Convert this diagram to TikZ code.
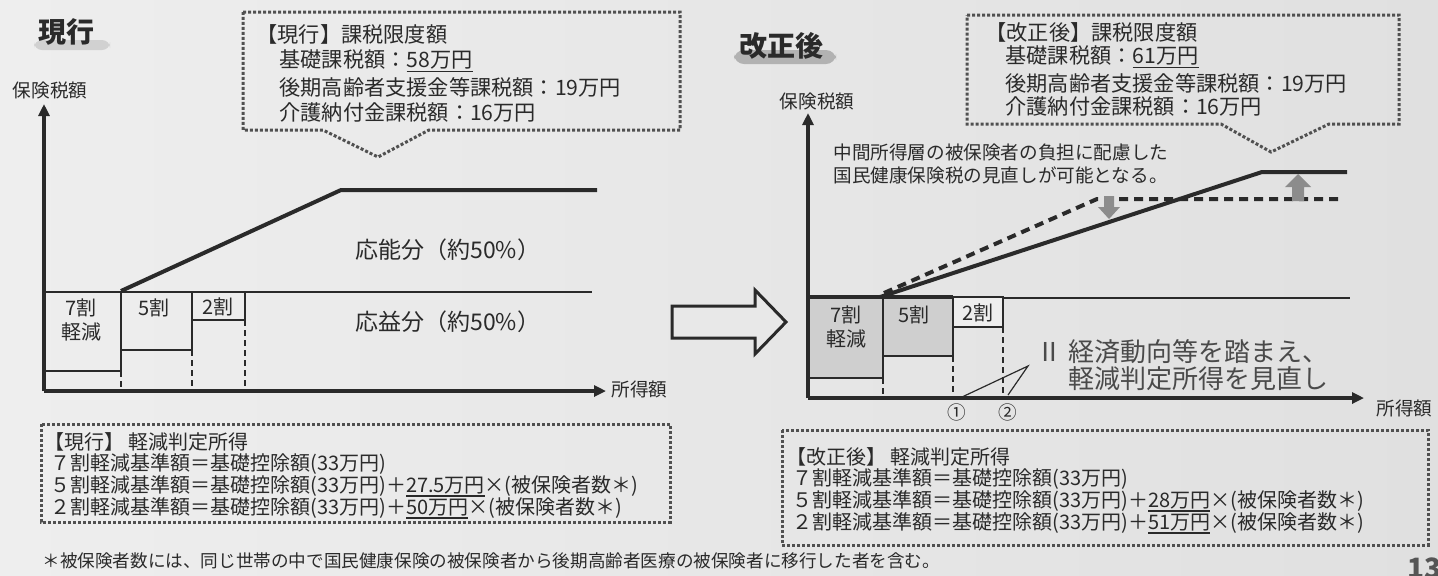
\documentclass[tikz,border=0pt]{standalone}
\usepackage{fontspec}
\setmainfont{Noto Sans CJK JP}
\usetikzlibrary{arrows.meta}
\definecolor{bgL}{HTML}{EEEEEE}
\definecolor{bgR}{HTML}{E0E0E0}
\definecolor{ink}{HTML}{2A2A2A}
\definecolor{dotc}{HTML}{505050}
\definecolor{boxfill}{HTML}{CFCFCF}
\definecolor{arrg}{HTML}{8C8C8C}
\newcommand\fzbox{\fontsize{10.6}{12}\selectfont}
\newcommand\fzlow{\fontsize{10}{11}\selectfont}
\newcommand\fzfoot{\fontsize{8.8}{10}\selectfont}
\newcommand\fzchart{\fontsize{11.5}{13}\selectfont}
\newcommand\fzbar{\fontsize{10}{11}\selectfont}
\newcommand\fzax{\fontsize{9.3}{10}\selectfont}
\newcommand\fztitle{\fontsize{14}{16}\selectfont\bfseries}
\newcommand\fzbig{\fontsize{13}{15}\selectfont}
\newcommand\ulx[1]{\leavevmode\setbox0=\hbox{#1}\rlap{\rule[-2.3pt]{\wd0}{0.7pt}}\box0}
\begin{document}
\begin{tikzpicture}[x=0.5pt,y=-0.5pt,
  dotbox/.style={draw=dotc,line width=1.5pt,dash pattern=on 1.5pt off 1pt},
  axisline/.style={draw=ink,line width=2pt,-{Triangle[length=6pt,width=5.5pt]}},
  profile/.style={draw=ink,line width=2pt},
  dprofile/.style={draw=ink,line width=2pt,dash pattern=on 4.5pt off 3pt},
  baseline/.style={draw=ink,line width=1pt},
  bar/.style={draw=ink,line width=1.2pt},
  vdash/.style={draw=ink,line width=0.8pt,dash pattern=on 3pt off 2pt},
  txt/.style={inner sep=0pt,text=ink},
  garrow/.style={fill=arrg,draw=none}]
\shade[left color=bgL,right color=bgR] (0,0) rectangle (1438,575);
\useasboundingbox (0,0) rectangle (1438,575);

% ---------- titles ----------
\fill[gray!45,rounded corners=4pt,opacity=.7] (34,40) rectangle (110,50);
\node[txt,font=\fztitle] (tl) at (66,32) {現行};
\fill[gray!60,rounded corners=5pt] (734,50) rectangle (836,64);
\node[txt,font=\fztitle] (tr) at (781,46) {改正後};

% ---------- top-left box ----------
\draw[dotbox] (243,12) -- (680,12) -- (680,130) -- (429,130) -- (378,157) -- (323,130) -- (243,130) -- cycle;
\node[txt,anchor=west,font=\fzbox] (lh) at (256,34) {【現行】課税限度額};
\node[txt,anchor=west,font=\fzbox] (l1) at (279,61) {基礎課税額：\ulx{58万円}};
\node[txt,anchor=west,font=\fzbox] (l2) at (279,87) {後期高齢者支援金等課税額：19万円};
\node[txt,anchor=west,font=\fzbox] (l3) at (279,112) {介護納付金課税額：16万円};

% ---------- top-right box ----------
\draw[dotbox] (967,15) -- (1399,15) -- (1399,124) -- (1329,124) -- (1271,152) -- (1221,124) -- (967,124) -- cycle;
\node[txt,anchor=west,font=\fzbox] (rh) at (985,32) {【改正後】課税限度額};
\node[txt,anchor=west,font=\fzbox] (r1) at (1005,57) {基礎課税額：\ulx{61万円}};
\node[txt,anchor=west,font=\fzbox] (r2) at (1005,83) {後期高齢者支援金等課税額：19万円};
\node[txt,anchor=west,font=\fzbox] (r3) at (1005,106) {介護納付金課税額：16万円};

% ---------- left chart ----------
\coordinate (LO) at (44,391);
\coordinate (LY) at (44,104);
\coordinate (LX) at (606,391);
\node[txt,font=\fzax] (ly) at (50,90) {保険税額};
\node[txt,anchor=west,font=\fzax] (lx) at (611,389) {所得額};
\draw[bar] (44,292) rectangle (121,371);
\draw[bar] (121,292) rectangle (192,350);
\draw[bar] (192,292) rectangle (245,320);
\draw[baseline] (44,292) -- (592,292);
\draw[profile] (121,291) -- (341,190) -- (597,190);
\draw[vdash] (121,371) -- (121,391);
\draw[vdash] (192,350) -- (192,391);
\draw[vdash] (245,320) -- (245,391);
\draw[axisline] (LO) -- (LY);
\draw[axisline] (LO) -- (LX);
\node[txt,font=\fzbar] (b7a) at (81,308) {7割};
\node[txt,font=\fzbar] (b7b) at (81,332) {軽減};
\node[txt,font=\fzbar] (b5) at (154,308) {5割};
\node[txt,font=\fzbar] (b2) at (218,307) {2割};
\node[txt,anchor=west,font=\fzchart] (onou) at (355,250) {応能分（約50\%）};
\node[txt,anchor=west,font=\fzchart] (oeki) at (355,322) {応益分（約50\%）};

% ---------- big arrow ----------
\draw[draw=ink,line width=1.5pt,fill=bgL!60!bgR,line join=miter]
  (672,306) -- (755,306) -- (755,290) -- (786,322) -- (755,354) -- (755,338) -- (672,338) -- cycle;

% ---------- right chart ----------
\coordinate (RO) at (808,398);
\coordinate (RY) at (808,113);
\coordinate (RX) at (1364,398);
\node[txt,font=\fzax] (ry) at (817,101) {保険税額};
\node[txt,anchor=west,font=\fzax] (rx) at (1376,408) {所得額};
\node[txt,anchor=west,font=\fzax] (n1) at (833,152) {中間所得層の被保険者の負担に配慮した};
\node[txt,anchor=west,font=\fzax] (n2) at (833,175) {国民健康保険税の見直しが可能となる。};
\draw[bar,fill=boxfill] (808,297) rectangle (883,378);
\draw[bar,fill=boxfill] (883,297) rectangle (953,356);
\draw[bar,fill=bgL] (953,297) rectangle (1003,327);
\draw[draw=ink,line width=1.8pt] (808,297) -- (953,297);
\draw[baseline] (1003,298) -- (1350,298);
\draw[dprofile] (884,293) -- (1097,199) -- (1340,199);
\draw[profile] (880,297) -- (1262,172) -- (1347,172);
% grey block arrows
\fill[garrow] (1104,196) -- (1114,196) -- (1114,207) -- (1120,207) -- (1109,219) -- (1098,207) -- (1104,207) -- cycle;
\fill[garrow] (1292,201) -- (1304,201) -- (1304,187) -- (1311,187) -- (1298,174) -- (1285,187) -- (1292,187) -- cycle;
\draw[vdash] (883,378) -- (883,398);
\draw[vdash] (953,356) -- (953,398);
\draw[vdash] (1003,327) -- (1003,398);
\draw[axisline] (RO) -- (RY);
\draw[axisline] (RO) -- (RX);
\node[txt,font=\fzbar] (c7a) at (846,315) {7割};
\node[txt,font=\fzbar] (c7b) at (846,339) {軽減};
\node[txt,font=\fzbar] (c5) at (914,315) {5割};
\node[txt,font=\fzbar] (c2) at (978,313) {2割};
\coordinate (tp) at (1028,366);
\draw[draw=ink,line width=0.6pt] (962,397) -- (tp) -- (1008,395);
\node[txt,font=\fzax] (m1) at (957,412) {①};
\node[txt,font=\fzax] (m2) at (1008,412) {②};
\node[txt,anchor=west,font=\fzbig,text=ink!85] (k1) at (1036,352) {Ⅱ 経済動向等を踏まえ、};
\node[txt,anchor=west,font=\fzbig,text=ink!85] (k2) at (1068,379) {軽減判定所得を見直し};

% ---------- bottom-left box ----------
\draw[dotbox] (41,424) rectangle (670,522);
\node[txt,anchor=west,font=\fzlow] (g0) at (44,442) {【現行】 軽減判定所得};
\node[txt,anchor=west,font=\fzlow] (g1) at (50,464) {７割軽減基準額＝基礎控除額(33万円)};
\node[txt,anchor=west,font=\fzlow] (g2) at (50,486) {５割軽減基準額＝基礎控除額(33万円)＋\ulx{27.5万円}×(被保険者数＊)};
\node[txt,anchor=west,font=\fzlow] (g3) at (50,508) {２割軽減基準額＝基礎控除額(33万円)＋\ulx{50万円}×(被保険者数＊)};

% ---------- bottom-right box ----------
\draw[dotbox] (782,430) rectangle (1428,545);
\node[txt,anchor=west,font=\fzlow] (h0) at (786,457) {【改正後】 軽減判定所得};
\node[txt,anchor=west,font=\fzlow] (h1) at (792,479) {７割軽減基準額＝基礎控除額(33万円)};
\node[txt,anchor=west,font=\fzlow] (h2) at (792,501) {５割軽減基準額＝基礎控除額(33万円)＋\ulx{28万円}×(被保険者数＊)};
\node[txt,anchor=west,font=\fzlow] (h3) at (792,523) {２割軽減基準額＝基礎控除額(33万円)＋\ulx{51万円}×(被保険者数＊)};

% ---------- footnote & page ----------
\node[txt,anchor=west,font=\fzfoot] (fn) at (42,561) {＊被保険者数には、同じ世帯の中で国民健康保険の被保険者から後期高齢者医療の被保険者に移行した者を含む。};
\node[txt,anchor=base west,font=\fontsize{14}{16}\selectfont\bfseries,text=ink!80] (pg) at (1407,578) {13};
\end{tikzpicture}
\end{document}
